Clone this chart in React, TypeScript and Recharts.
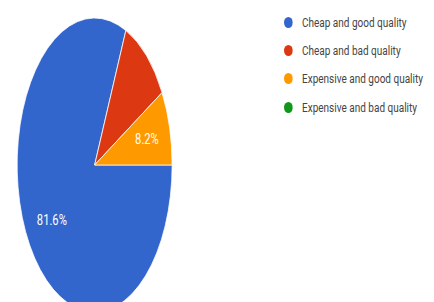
import { PieChart, Pie, Cell, Legend } from 'recharts';

const categories = [
  'Cheap and good quality',
  'Cheap and bad quality',
  'Expensive and good quality',
  'Expensive and bad quality',
];
const shares = [81.6, 10.2, 8.2, 0];
const sliceLabels = ['81.6%', '', '8.2%', ''];
const COLORS = ['#3366cc', '#dc3912', '#ff9900', '#109618'];

const data = categories.map((name, i) => ({ name, value: shares[i] }));

// page is squeezed horizontally: everything by SQUEEZE, the pie itself a bit more
const SQUEEZE = 0.8;
const PIE_X = 0.659;
const CX = 115;
const CY = 160;
const RADIUS = 147;
const RAD = Math.PI / 180;

const renderLabel = (props: any) => {
  const { cx, cy, midAngle, outerRadius, index } = props;
  const text = sliceLabels[index];
  if (!text) return null;
  const r = outerRadius * 0.68;
  const x = cx + r * Math.cos(-midAngle * RAD) * PIE_X;
  const y = cy + r * Math.sin(-midAngle * RAD);
  return (
    <text x={x} y={y} fill="#fff" fontSize={14} textAnchor="middle" dominantBaseline="central">
      {text}
    </text>
  );
};

const renderLegend = (props: any) => {
  // keep the legend in data order, not alphabetical
  const payload = [...props.payload].sort(
    (a: any, b: any) => categories.indexOf(a.value) - categories.indexOf(b.value),
  );
  return (
    <ul style={{ listStyle: 'none', margin: 0, padding: 0 }}>
      {payload.map((entry: any, i: number) => (
        <li key={`item-${i}`} style={{ display: 'flex', alignItems: 'center', height: 28.3 }}>
          <svg width={11} height={11} style={{ marginRight: 12 }}>
            <circle cx={5.5} cy={5.5} r={5.5} fill={entry.color} />
          </svg>
          <span style={{ color: '#444', fontSize: 12.5, whiteSpace: 'nowrap' }}>{entry.value}</span>
        </li>
      ))}
    </ul>
  );
};

export default function App() {
  const width = 434 / SQUEEZE;
  return (
    <div style={{ position: 'absolute', left: 0, top: 0, width: 434, height: 302, overflow: 'hidden', background: '#fff' }}>
      <style>{`.recharts-sector { transform: scaleX(${PIE_X}); transform-origin: ${CX}px ${CY}px; }`}</style>
      <div style={{ width, height: 302, transform: `scaleX(${SQUEEZE})`, transformOrigin: '0 0', fontFamily: 'Roboto, sans-serif' }}>
        <PieChart width={width} height={302}>
          <Pie
            data={data}
            dataKey="value"
            nameKey="name"
            cx={CX}
            cy={CY}
            outerRadius={RADIUS}
            startAngle={0}
            endAngle={-360}
            stroke="#fff"
            strokeWidth={1}
            label={renderLabel}
            labelLine={false}
            isAnimationActive={false}
          >
            {data.map((_, index) => (
              <Cell key={`cell-${index}`} fill={COLORS[index % COLORS.length]} />
            ))}
          </Pie>
          <Legend
            layout="vertical"
            content={renderLegend}
            wrapperStyle={{ left: 354.5, top: 8, width: 'auto' }}
          />
        </PieChart>
      </div>
    </div>
  );
}
